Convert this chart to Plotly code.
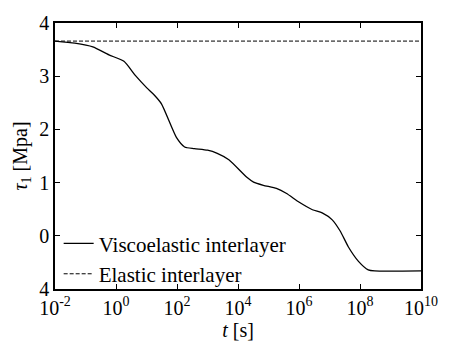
import plotly.graph_objects as go

# log10(t) and tau values
log_t = [-2, -1.35, -0.76, -0.23, 0.26, 0.64, 1.01, 1.23, 1.49, 1.98, 2.25, 2.57, 3.0, 3.32,
         3.70, 4.29, 4.51, 4.83, 5.26, 5.58, 6.01, 6.44, 6.76, 7.09, 7.35, 7.62, 7.95, 8.27,
         8.48, 10]
visco = [3.66, 3.62, 3.55, 3.40, 3.28, 3.01, 2.78, 2.66, 2.48, 1.85, 1.67, 1.64, 1.61, 1.55,
         1.43, 1.10, 1.01, 0.95, 0.89, 0.80, 0.63, 0.49, 0.43, 0.30, 0.09, -0.21, -0.48, -0.64,
         -0.66, -0.66]
elastic_t = [1e-2, 1e10]
elastic = [3.66, 3.66]

x_tickvals = [1e-2, 1e0, 1e2, 1e4, 1e6, 1e8, 1e10]
x_ticktext = ["10<sup>-2</sup>", "10<sup>0</sup>", "10<sup>2</sup>", "10<sup>4</sup>",
              "10<sup>6</sup>", "10<sup>8</sup>", "10<sup>10</sup>"]
y_tickvals = [4, 3, 2, 1, 0, -1]
y_ticktext = ["4", "3", "2", "1", "0", "4"]

t_vals = [10 ** v for v in log_t]

font = "'Liberation Serif', 'DejaVu Serif', Times, serif"
fs = 20

fig = go.Figure()
fig.add_trace(go.Scatter(x=t_vals, y=visco, mode="lines", name="Viscoelastic interlayer",
                         line=dict(color="black", width=1.3, shape="spline", smoothing=0.6)))
fig.add_trace(go.Scatter(x=elastic_t, y=elastic, mode="lines", name="Elastic interlayer",
                         line=dict(color="black", width=1, dash="4px,2px")))

fig.update_layout(
    width=450, height=347,
    margin=dict(l=55, r=23, t=15, b=53),
    paper_bgcolor="white", plot_bgcolor="white",
    font=dict(family=font, size=fs, color="black"),
    showlegend=True,
    legend=dict(x=0.01, y=-0.02, xanchor="left", yanchor="bottom",
                bgcolor="rgba(0,0,0,0)", font=dict(family=font, size=21), tracegroupgap=0,
                itemwidth=30),
    xaxis=dict(type="log", range=[-2, 10], tickvals=x_tickvals, ticktext=x_ticktext,
               ticks="inside", ticklen=5, tickcolor="black", mirror="ticks",
               showline=True, linecolor="black", linewidth=1.5, showgrid=False,
               zeroline=False, tickfont=dict(family=font, size=fs),
               title=dict(text="<i>t</i> [s]", standoff=2, font=dict(family=font, size=fs))),
    yaxis=dict(range=[-1, 4], tickvals=y_tickvals, ticktext=y_ticktext,
               ticks="inside", ticklen=5, tickcolor="black", mirror="ticks",
               showline=True, linecolor="black", linewidth=1.5, showgrid=False,
               zeroline=False, tickfont=dict(family=font, size=fs),
               title=dict(text="<i>τ</i><sub>1</sub> [Mpa]", standoff=6,
                          font=dict(family=font, size=fs))),
)

fig.write_html("out.html")
